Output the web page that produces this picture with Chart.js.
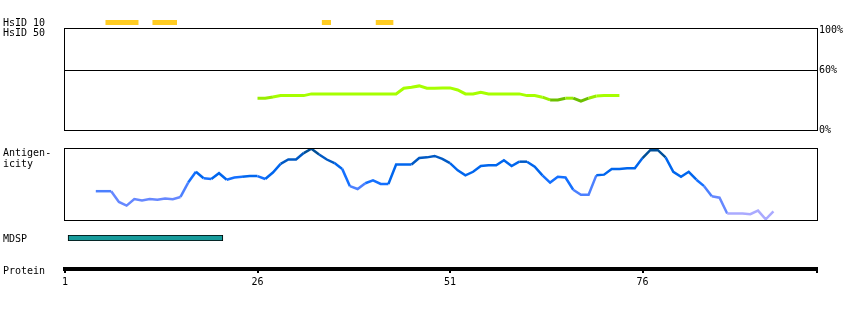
<!DOCTYPE html>
<html>
<head>
<meta charset="utf-8">
<title>Antigen view</title>
<script src="https://cdn.jsdelivr.net/npm/chart.js@4/dist/chart.umd.min.js"></script>
<style>
    body { margin: 0; background: #fff; width: 850px; height: 310px; position: relative; overflow: hidden;
           font: 10px "DejaVu Sans Mono", monospace; color: #000; }
    canvas { position: absolute; left: 0; }
    .lbl { position: absolute; left: 3px; line-height: 11px; white-space: pre; z-index: 2; }
</style>
</head>
<body>
<canvas id="hsid10Chart"  width="850" height="16"  style="top:14px"></canvas>
<canvas id="hsid50Chart"  width="850" height="124" style="top:14px"></canvas>
<canvas id="antigenChart" width="850" height="91"  style="top:134px"></canvas>
<canvas id="mdspChart"    width="850" height="20"  style="top:228px"></canvas>
<canvas id="proteinChart" width="850" height="60"  style="top:240px"></canvas>

<div class="lbl" style="top:17px">HsID 10</div>
<div class="lbl" style="top:27px">HsID 50</div>
<div class="lbl" style="top:147px">Antigen-<br>icity</div>
<div class="lbl" style="top:233px">MDSP</div>
<div class="lbl" style="top:265px">Protein</div>

<script>
/* ── Data ─────────────────────────────────────────────────────── */
const residueRange  = [1, 98.66];
const proteinTicks  = [1, 26, 51, 76];
const hsid10Spans   = [[6.3, 10.5], [12.4, 15.5], [34.4, 35.5], [41.4, 43.6]];
const hsid50Ticks   = [0, 60, 100];
const hsid50Start   = 26;
const hsid50Values  = [
    31.8, 31.8, 33.1, 34.4, 34.4, 34.4, 34.4, 36.1, 36.1, 36.1,
    36.1, 36.1, 36.1, 36.1, 36.1, 36.1, 36.1, 36.1, 36.1, 41.8,
    42.8, 44.1, 41.8, 41.8, 42.1, 42.1, 40.0, 36.1, 36.1, 37.8,
    36.1, 36.1, 36.1, 36.1, 36.1, 34.4, 34.4, 32.8, 30.1, 30.1,
    31.8, 31.8, 28.8, 31.8, 34.0, 34.4, 34.4, 34.4
];
const antigenStart  = 5;
const antigenValues = [
    0.40, 0.40, 0.40, 0.25, 0.20, 0.29, 0.27, 0.29, 0.28, 0.30,
    0.29, 0.32, 0.52, 0.67, 0.58, 0.57, 0.65, 0.56, 0.59, 0.60,
    0.61, 0.61, 0.57, 0.66, 0.78, 0.84, 0.84, 0.93, 0.99, 0.91,
    0.84, 0.79, 0.71, 0.47, 0.43, 0.51, 0.55, 0.50, 0.50, 0.77,
    0.77, 0.77, 0.86, 0.87, 0.89, 0.85, 0.79, 0.69, 0.62, 0.67,
    0.75, 0.76, 0.76, 0.83, 0.75, 0.81, 0.81, 0.74, 0.62, 0.52,
    0.60, 0.59, 0.42, 0.35, 0.35, 0.62, 0.63, 0.71, 0.71, 0.72,
    0.72, 0.86, 0.97, 0.97, 0.87, 0.67, 0.60, 0.67, 0.56, 0.47,
    0.33, 0.31, 0.09, 0.09, 0.09, 0.08, 0.13, 0.01, 0.12
];
const mdspSpan      = [1.4, 21.5];

/* ── Helpers ──────────────────────────────────────────────────── */
const toPoints = (start, values) => values.map((v, i) => ({ x: start + i, y: v }));

function hsidColor(v) {
    if (v >= 33) return '#a6ff00';
    if (v >= 31) return '#99ee00';
    return '#6cbf00';
}

function antigenColor(v) {
    if (v >= 0.9)  return '#004f98';
    if (v >= 0.8)  return '#0059c4';
    if (v >= 0.6)  return '#0066ee';
    if (v >= 0.5)  return '#1470ff';
    if (v >= 0.35) return '#4c80ff';
    if (v >= 0.18) return '#6688ff';
    return '#aaaaff';
}

const segAvg = ctx => (ctx.p0.parsed.y + ctx.p1.parsed.y) / 2;

function residueAxis(extra) {
    return Object.assign({ type: 'linear', min: residueRange[0], max: residueRange[1], display: false }, extra || {});
}

// black frame round the plot area
const panelBox = {
    id: 'panelBox',
    afterDraw(chart) {
        const a = chart.chartArea, c = chart.ctx;
        c.save();
        c.strokeStyle = '#000';
        c.lineWidth = 1;
        c.strokeRect(a.left - 0.5, a.top + 0.5, a.width + 1, a.height);
        c.restore();
    }
};

const base = {
    responsive: false,
    animation: false,
    events: [],
    plugins: { legend: { display: false }, tooltip: { enabled: false } }
};

/* ── HsID 10 track ────────────────────────────────────────────── */
new Chart(document.getElementById('hsid10Chart'), {
    type: 'bar',
    data: {
        labels: ['HsID 10'],
        datasets: [{
            data: hsid10Spans.map(s => ({ x: s, y: 'HsID 10' })),
            backgroundColor: '#ffcc22',
            borderWidth: 0,
            barPercentage: 1,
            categoryPercentage: 1
        }]
    },
    options: Object.assign({}, base, {
        indexAxis: 'y',
        layout: { padding: { left: 65, right: 33, top: 6, bottom: 5 } },
        scales: { x: residueAxis(), y: { display: false } }
    })
});

/* ── HsID 50 panel ────────────────────────────────────────────── */
new Chart(document.getElementById('hsid50Chart'), {
    type: 'line',
    data: {
        datasets: [{
            data: toPoints(hsid50Start, hsid50Values),
            borderWidth: 3,
            pointRadius: 0,
            tension: 0,
            segment: { borderColor: ctx => hsidColor(segAvg(ctx)) }
        }]
    },
    options: Object.assign({}, base, {
        layout: { padding: { left: 65, right: 0, top: 14, bottom: 5 } },
        scales: {
            x: residueAxis(),
            y: {
                position: 'right',
                min: 0, max: 102,
                afterBuildTicks: s => { s.ticks = hsid50Ticks.map(v => ({ value: v })); },
                afterFit: s => { s.width = 33; },
                border: { display: false },
                grid: {
                    drawTicks: false,
                    color: ctx => ctx.tick && ctx.tick.value === 60 ? '#000' : 'rgba(0,0,0,0)',
                    lineWidth: 1
                },
                ticks: {
                    padding: 2,
                    color: '#000',
                    font: { family: 'DejaVu Sans Mono', size: 10 },
                    callback: v => v + '%'
                }
            }
        }
    }),
    plugins: [panelBox]
});

/* ── Antigenicity panel ───────────────────────────────────────── */
new Chart(document.getElementById('antigenChart'), {
    type: 'line',
    data: {
        datasets: [{
            data: toPoints(antigenStart, antigenValues),
            borderWidth: 2.5,
            pointRadius: 0,
            tension: 0,
            segment: { borderColor: ctx => antigenColor(segAvg(ctx)) }
        }]
    },
    options: Object.assign({}, base, {
        layout: { padding: { left: 65, right: 33, top: 14, bottom: 5 } },
        scales: { x: residueAxis(), y: { display: false, min: 0, max: 1 } }
    }),
    plugins: [panelBox]
});

/* ── MDSP track ───────────────────────────────────────────────── */
new Chart(document.getElementById('mdspChart'), {
    type: 'bar',
    data: {
        labels: ['MDSP'],
        datasets: [{
            data: [{ x: mdspSpan, y: 'MDSP' }],
            backgroundColor: '#189c9c',
            borderColor: '#000',
            borderWidth: 1,
            borderSkipped: false,
            barPercentage: 1,
            categoryPercentage: 1
        }]
    },
    options: Object.assign({}, base, {
        indexAxis: 'y',
        layout: { padding: { left: 65, right: 33, top: 7, bottom: 7 } },
        scales: { x: residueAxis(), y: { display: false } }
    })
});

/* ── Protein axis ─────────────────────────────────────────────── */
new Chart(document.getElementById('proteinChart'), {
    type: 'line',
    data: { datasets: [{ data: [] }] },
    options: Object.assign({}, base, {
        layout: { padding: { left: 65, right: 33, top: 0, bottom: 1 } },
        scales: {
            x: residueAxis({
                display: true,
                afterBuildTicks: s => { s.ticks = proteinTicks.concat([residueRange[1]]).map(v => ({ value: v })); },
                afterFit: s => { s.height = 30; },
                border: { display: true, color: '#000', width: 4 },
                grid: { drawOnChartArea: false, color: '#000', lineWidth: 2, tickLength: 4 },
                ticks: {
                    autoSkip: false,
                    maxRotation: 0,
                    padding: 3,
                    color: '#000',
                    font: { family: 'DejaVu Sans Mono', size: 10 },
                    callback: v => proteinTicks.includes(v) ? String(v) : ''
                }
            }),
            y: { display: false }
        }
    })
});
</script>
</body>
</html>
